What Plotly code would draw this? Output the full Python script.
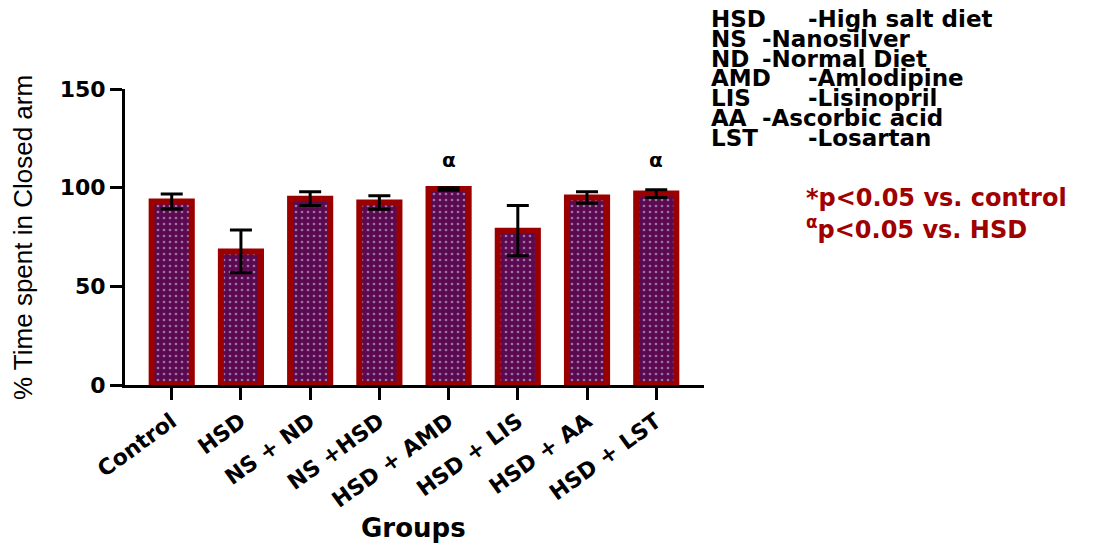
import plotly.graph_objects as go

groups = ["Control", "HSD", "NS + ND", "NS +HSD", "HSD + AMD", "HSD + LIS", "HSD + AA", "HSD + LST"]
mean_time = [93.0, 67.7, 94.4, 92.5, 99.3, 78.2, 95.0, 97.0]
sem_time = [3.8, 10.8, 3.5, 3.4, 0.6, 12.7, 2.9, 2.0]
alpha_marks = ["", "", "", "", "α", "", "", "α"]
y_ticks = [0, 50, 100, 150]

abbrev = ["HSD", "NS", "ND", "AMD", "LIS", "AA", "LST"]
meaning = ["-High salt diet", "-Nanosilver", "-Normal Diet", "-Amlodipine", "-Lisinopril", "-Ascorbic acid", "-Losartan"]
wide_gap = [True, False, False, True, True, False, True]

BOLD = "DejaVu Sans, Liberation Sans, sans-serif"
PLAIN = "Liberation Sans, Arial, sans-serif"
BAR_FILL = "#5b0a52"
BAR_EDGE = "#9b0000"
SIG_RED = "#a00000"

fig = go.Figure()
fig.add_trace(go.Bar(
    x=list(range(len(groups))),
    y=mean_time,
    width=0.58,
    marker=dict(
        color=BAR_FILL,
        line=dict(color=BAR_EDGE, width=6),
        pattern=dict(shape=".", fgcolor="#dcdce6", bgcolor=BAR_FILL, size=6, solidity=0.16),
    ),
    error_y=dict(type="data", array=sem_time, visible=True, color="black", thickness=3, width=11),
    showlegend=False,
))

# significance markers above bars
for i, m in enumerate(alpha_marks):
    if m:
        fig.add_annotation(x=i, y=114, text=m, showarrow=False,
                           font=dict(family=BOLD, size=20, color="black", weight="bold"),
                           xref="x", yref="y")

# abbreviation key, top right
for k, (a, t, w) in enumerate(zip(abbrev, meaning, wide_gap)):
    yy = 19 + 19.8 * k
    fig.add_annotation(x=709, y=yy, text=a, showarrow=False, xanchor="left", yanchor="middle",
                       xref="paper", yref="paper",
                       font=dict(family=BOLD, size=23, color="black", weight="bold"))
    fig.add_annotation(x=806 if w else 760, y=yy, text=t, showarrow=False, xanchor="left",
                       yanchor="middle", xref="paper", yref="paper",
                       font=dict(family=BOLD, size=23, color="black", weight="bold"))

# statistics note
fig.add_annotation(x=804, y=198, text="*p<0.05 vs. control", showarrow=False, xanchor="left",
                   yanchor="middle", xref="paper", yref="paper",
                   font=dict(family=BOLD, size=24, color=SIG_RED, weight="bold"))
fig.add_annotation(x=804, y=228, text="<sup>α</sup>p<0.05 vs. HSD", showarrow=False, xanchor="left",
                   yanchor="middle", xref="paper", yref="paper",
                   font=dict(family=BOLD, size=24, color=SIG_RED, weight="bold"))

# axis titles
fig.add_annotation(x=23, y=238, text="% Time spent in Closed arm", textangle=-90, showarrow=False,
                   xanchor="center", yanchor="middle", xref="paper", yref="paper",
                   font=dict(family=PLAIN, size=26, color="black"))
fig.add_annotation(x=413, y=528, text="Groups", showarrow=False, xanchor="center", yanchor="middle",
                   xref="paper", yref="paper",
                   font=dict(family=BOLD, size=26, color="black", weight="bold"))

W, H = 1093, 546
L, R, T, B = 125, 704, 89, 385

# convert annotation pixel positions to paper fractions
for ann in fig.layout.annotations:
    if ann.xref == "paper":
        ann.x = (ann.x - L) / (R - L)
        ann.y = (B - ann.y) / (B - T)

fig.update_layout(
    width=W, height=H,
    margin=dict(l=L, r=W - R, t=T, b=H - B, pad=0),
    plot_bgcolor="white", paper_bgcolor="white",
    xaxis=dict(
        range=[-0.675, 7.69],
        tickmode="array", tickvals=list(range(len(groups))), ticktext=groups,
        tickangle=-36,
        ticks="outside", ticklen=12, tickwidth=3, tickcolor="black",
        showline=True, linewidth=3, linecolor="black",
        showgrid=False, zeroline=False,
        tickfont=dict(family=BOLD, size=22, color="black", weight="bold"),
    ),
    yaxis=dict(
        range=[0, 150],
        tickmode="array", tickvals=y_ticks,
        ticks="outside", ticklen=12, tickwidth=3, tickcolor="black",
        showline=True, linewidth=3, linecolor="black",
        showgrid=False, zeroline=False,
        tickfont=dict(family=BOLD, size=22, color="black", weight="bold"),
    ),
)

fig.write_html("out.html")
